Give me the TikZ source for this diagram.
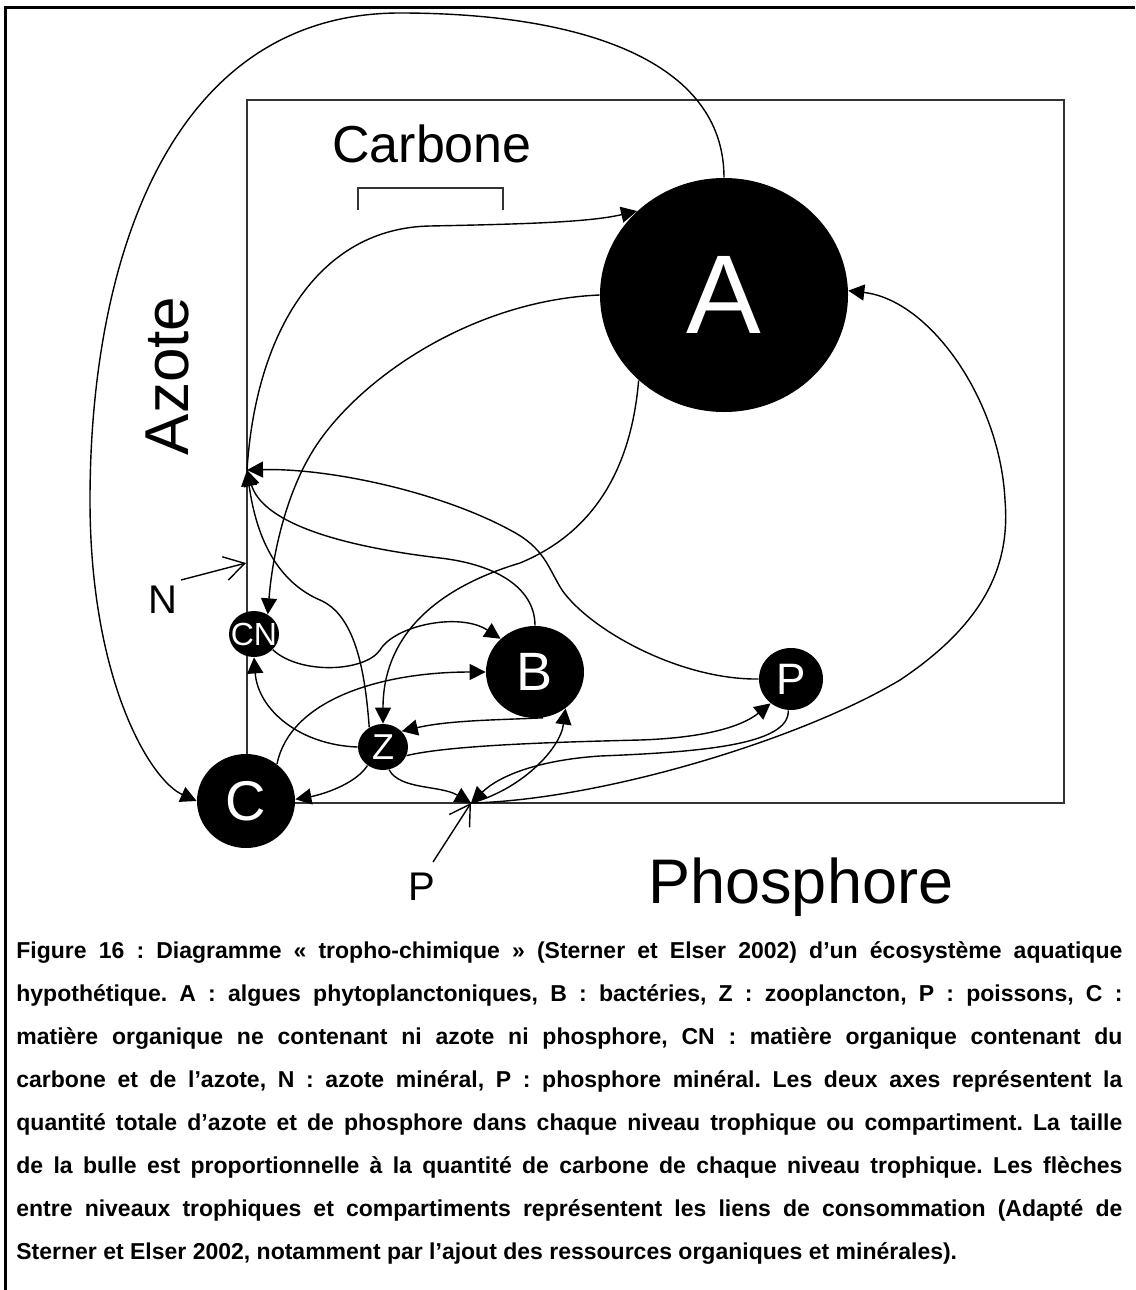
\documentclass[tikz,border=0pt]{standalone}
\usepackage{fontspec}
\setmainfont{Liberation Sans}
\usetikzlibrary{arrows.meta,shapes.geometric}
\begin{document}
\frenchspacing
\begin{tikzpicture}[x=0.5pt,y=-0.5pt,
  bub/.style={ellipse,fill=black,text=white,inner sep=0pt},
  con/.style={line width=0.7pt,-{Triangle[length=8pt,width=8pt]}},
  pointer/.style={line width=0.7pt,-{Straight Barb[length=10pt,width=12pt]}},
  axlbl/.style={inner sep=0pt,text=black},
  capline/.style={anchor=base west,inner sep=0pt,font=\bfseries\fontsize{11.5}{13}\selectfont}]
\useasboundingbox (0,0) rectangle (1135,1290);
% outer frame
\draw[line width=1.5pt] (5,1290) -- (5,7) -- (1135,7);
% inner box (axes)
\draw[line width=1pt,black!80] (247,100) rectangle (1064,803);
% bubbles
\node[bub,minimum width=124pt,minimum height=117pt,font=\fontsize{56}{56}\selectfont] (A) at (724,295) {A};
\node[bub,minimum width=49pt,minimum height=46pt,font=\fontsize{27}{27}\selectfont] (B) at (535,672) {B};
\node[bub,minimum width=49pt,minimum height=47pt,font=\fontsize{28}{28}\selectfont] (C) at (246,801) {C};
\node[bub,minimum width=25pt,minimum height=23pt,font=\fontsize{18}{18}\selectfont] (Z) at (383,747) {Z};
\node[bub,minimum width=25pt,minimum height=23pt,font=\fontsize{16}{16}\selectfont] (CN) at (254,634) {\makebox[0pt]{CN}};
\node[bub,minimum width=32pt,minimum height=31pt,font=\fontsize{22}{22}\selectfont] (Pf) at (791,679) {P};
% labels
\node[axlbl,anchor=base,font=\fontsize{26}{26}\selectfont] (carb) at (432,162) {Carbone};
\node[axlbl,rotate=90,anchor=base,font=\fontsize{31}{31}\selectfont] (azote) at (188,376) {Azote};
\node[axlbl,anchor=base west,font=\fontsize{31.5}{31.5}\selectfont] (phos) at (648,903) {Phosphore};
\node[axlbl,anchor=base west,font=\fontsize{20}{20}\selectfont] (Nlab) at (148,613) {N};
\node[axlbl,anchor=base west,font=\fontsize{20}{20}\selectfont] (Plab) at (408,900) {P};
% carbon scale bracket
\draw[line width=0.8pt,black!80] (358,210) -- (358,188) -- (503,188) -- (503,210);
% mineral pools
\coordinate (Nm) at (247,470);
\coordinate (Pm) at (471,803);
\coordinate (Nin) at (246,563);
\coordinate (Ns) at (181,580);
\coordinate (Ps) at (433,862);
\draw[pointer] (Ns) -- (Nin);
\draw[pointer] (Ps) -- (Pm);
% connectors
\draw[con] (A.north) .. controls (724,60) and (580,13) .. (400,13) .. controls (170,13) and (90,260) .. (90,500) .. controls (90,680) and (150,780) .. (C.west);
\draw[con] (Nm) .. controls (256,330) and (320,228) .. (430,226) .. controls (530,224) and (590,222) .. (A.136);
\draw[con] (A.180) .. controls (480,300) and (370,370) .. (320,440) .. controls (285,489) and (272,560) .. (CN.55);
\draw[con] (A.225) .. controls (632,460) and (600,530) .. (520,563) .. controls (430,590) and (383,640) .. (Z.north);
\draw[con] (Pm) .. controls (600,800) and (800,740) .. (900,680) .. controls (990,620) and (1010,560) .. (1005,500) .. controls (1000,400) and (930,300) .. (A.2);
\draw[con] (CN.-40) .. controls (300,675) and (365,672) .. (380,650) .. controls (395,625) and (460,612) .. (B.136);
\draw[con] (C.50) .. controls (290,700) and (380,672) .. (B.180);
\draw[con] (Z.west) .. controls (300,745) and (258,710) .. (CN.south);
\draw[con] (B.-80) .. controls (500,720) and (450,720) .. (Z.40);
\draw[con] (Z.230) .. controls (355,785) and (320,795) .. (C.2);
\draw[con] (Z.-75) .. controls (400,790) and (440,785) .. (Pm);
\draw[con] (Pf.-95) .. controls (790,745) and (700,752) .. (600,756) .. controls (540,760) and (500,775) .. (Pm);
\draw[con] (Z.-20) .. controls (450,745) and (560,742) .. (640,740) .. controls (700,738) and (740,728) .. (Pf.230);
\draw[con] (Pm) .. controls (520,790) and (560,750) .. (B.-50);
\draw[con] (B.north) .. controls (535,590) and (500,565) .. (440,558) .. controls (330,545) and (262,520) .. (Nm);
\draw[con] (Z.125) .. controls (365,670) and (355,615) .. (320,600) .. controls (285,585) and (258,550) .. (Nm);
\draw[con] (Pf.west) .. controls (680,680) and (590,630) .. (562,590) .. controls (548,568) and (545,548) .. (510,530) .. controls (440,492) and (330,468) .. (Nm);
% caption
\node[capline] (cap1) at (16,958) {\makebox[553pt][s]{Figure 16 : Diagramme « tropho-chimique » (Sterner et Elser 2002) d’un écosystème aquatique}};
\node[capline] (cap2) at (16,1001) {\makebox[553pt][s]{hypothétique. A : algues phytoplanctoniques, B : bactéries, Z : zooplancton, P : poissons, C :}};
\node[capline] (cap3) at (16,1044) {\makebox[553pt][s]{matière organique ne contenant ni azote ni phosphore, CN : matière organique contenant du}};
\node[capline] (cap4) at (16,1087) {\makebox[553pt][s]{carbone et de l’azote, N : azote minéral, P : phosphore minéral. Les deux axes représentent la}};
\node[capline] (cap5) at (16,1130) {\makebox[553pt][s]{quantité totale d’azote et de phosphore dans chaque niveau trophique ou compartiment. La taille}};
\node[capline] (cap6) at (16,1173) {\makebox[553pt][s]{de la bulle est proportionnelle à la quantité de carbone de chaque niveau trophique. Les flèches}};
\node[capline] (cap7) at (16,1216) {\makebox[553pt][s]{entre niveaux trophiques et compartiments représentent les liens de consommation (Adapté de}};
\node[capline] (cap8) at (16,1259) {Sterner et Elser 2002, notamment par l’ajout des ressources organiques et minérales).};
\end{tikzpicture}
\end{document}
